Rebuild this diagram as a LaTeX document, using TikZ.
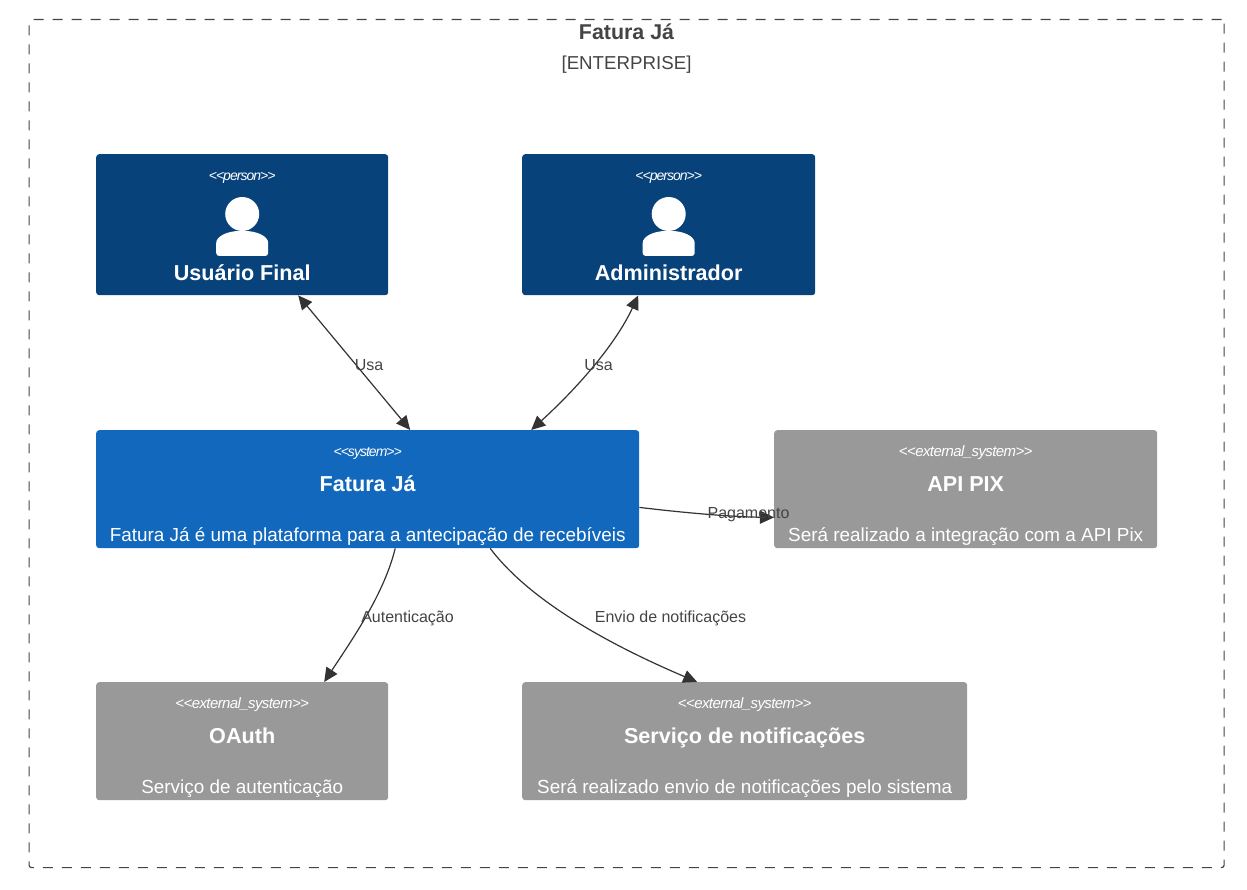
\documentclass[tikz,border=0pt]{standalone}
\usepackage{fontspec}
\setmainfont{Liberation Sans}
\newfontfamily\stereofont[LetterSpace=-7]{Liberation Sans}
\newfontfamily\stereoextfont[LetterSpace=-4]{Liberation Sans}
\usetikzlibrary{arrows.meta}
\definecolor{personblue}{HTML}{08427B}
\definecolor{systemblue}{HTML}{1168BD}
\definecolor{extgray}{HTML}{999999}
\definecolor{labelgray}{HTML}{444444}
\definecolor{linegray}{HTML}{333333}
\tikzset{
  box/.style={fill=#1, rounded corners=3pt, inner sep=0pt, anchor=north west},
  stereo/.style={text=white, anchor=base, inner sep=0pt, font=\fontsize{14}{14}\stereofont\itshape},
  boxtitle/.style={text=white, anchor=base, inner sep=0pt, font=\fontsize{21.6}{22}\selectfont\bfseries},
  boxdesc/.style={text=white, anchor=base, inner sep=0pt, font=\fontsize{18.9}{19}\selectfont},
  rel/.style={draw=linegray, line width=1.2pt},
  tip/.style={-{Stealth[length=14pt,width=13pt,inset=0pt]}},
  biptip/.style={{Stealth[length=14pt,width=13pt,inset=0pt]}-{Stealth[length=14pt,width=13pt,inset=0pt]}},
  rellabel/.style={text=labelgray, inner sep=0pt, font=\fontsize{16}{16}\selectfont},
}
\begin{document}
\begin{tikzpicture}[x=1pt,y=-1pt]
  \useasboundingbox (0,0) rectangle (1247,890);
  % Boundary
  \node[draw=labelgray, line width=1.2pt, dash pattern=on 10pt off 9pt, rounded corners=2.5pt, inner sep=0pt,
    minimum width=1195pt, minimum height=848pt, anchor=north west] (fronteira) at (28.5,19) {};
  \node[text=labelgray, anchor=base, inner sep=0pt, font=\fontsize{21.4}{22}\selectfont\bfseries] (fronteiratitulo) at (626.5,40) {Fatura Já};
  \node[text=labelgray, anchor=base, inner sep=0pt, font=\fontsize{18.7}{19}\selectfont] (fronteiratipo) at (626.5,70) {[ENTERPRISE]};
  % Persons
  \foreach \name/\x/\w/\titulo in {usuario/96/292/Usuário Final, admin/522/293/Administrador}{
      \node[box=personblue, minimum width=\w pt, minimum height=141pt] (\name) at (\x,154) {};
      \node[stereo] (\name-tipo) at ([yshift=-27pt]\name.north) {<<person>>};
      \node[boxtitle] (\name-titulo) at ([yshift=-126.5pt]\name.north) {\titulo};
      % Icon
      \fill[white] ([yshift=-60pt]\name.north) circle (17pt);
      \fill[white, rounded corners=3pt] ([xshift=-26pt,yshift=-102pt]\name.north)
        -- ([xshift=-26pt,yshift=-92pt]\name.north)
        .. controls ([xshift=-26pt,yshift=-82pt]\name.north) and ([xshift=-14pt,yshift=-77pt]\name.north) .. ([xshift=0pt,yshift=-77pt]\name.north)
        .. controls ([xshift=14pt,yshift=-77pt]\name.north) and ([xshift=26pt,yshift=-82pt]\name.north) .. ([xshift=26pt,yshift=-92pt]\name.north)
        -- ([xshift=26pt,yshift=-102pt]\name.north) -- cycle;
    }
  % Systems
  \foreach \name/\x/\y/\w/\cor/\stfont/\tipo/\titulo/\desc in {
      fatura/96/430/543/systemblue/\stereofont/<<system>>/Fatura Já/Fatura Já é uma plataforma para a antecipação de recebíveis,
      pix/774/430/383/extgray/\stereoextfont\fontsize{15}{15}/<<external\_system>>/API PIX/Será realizado a integração com a API Pix,
      oauth/96/682/292/extgray/\stereoextfont\fontsize{15}{15}/<<external\_system>>/OAuth/Serviço de autenticação,
      notificacoes/522/682/445/extgray/\stereoextfont\fontsize{15}{15}/<<external\_system>>/Serviço de notificações/Será realizado envio de notificações pelo sistema}{
      \node[box=\cor, minimum width=\w pt, minimum height=118pt] (\name) at (\x,\y) {};
      \node[stereo] (\name-tipo) at ([yshift=-26pt]\name.north) {\stfont\itshape\selectfont\tipo};
      \node[boxtitle] (\name-titulo) at ([yshift=-61.5pt]\name.north) {\titulo};
      \node[boxdesc] (\name-desc) at ([yshift=-111pt]\name.north) {\desc};
    }
  % Relations
  \draw[rel, biptip] ([xshift=56pt]usuario.south) -- ([xshift=42.5pt]fatura.north);
  \draw[rel, biptip] ([xshift=-30.5pt]admin.south) .. controls +(-23,50) and +(44,-40) .. ([xshift=163.5pt]fatura.north);
  \draw[rel, tip] ([yshift=41pt]fatura.south east) .. controls +(50,6) and +(-40,-0.5) .. ([yshift=31pt]pix.south west);
  \draw[rel, tip] ([xshift=27.5pt]fatura.south) .. controls +(-11,45) and +(29,-44) .. ([xshift=82pt]oauth.north);
  \draw[rel, tip] ([xshift=122.5pt]fatura.south) .. controls +(40,53) and +(-87,-37) .. ([xshift=-47.5pt]notificacoes.north);
  % Labels
  \node[rellabel] (usa1) at (369,365) {Usa};
  \node[rellabel] (usa2) at (598.5,365) {Usa};
  \node[rellabel] (pagamento) at (748.5,514.5) {Pagamento};
  \node[rellabel] (autenticacao) at (407.5,618) {Autenticação};
  \node[rellabel] (envio) at (670.5,618) {Envio de notificações};
\end{tikzpicture}
\end{document}
